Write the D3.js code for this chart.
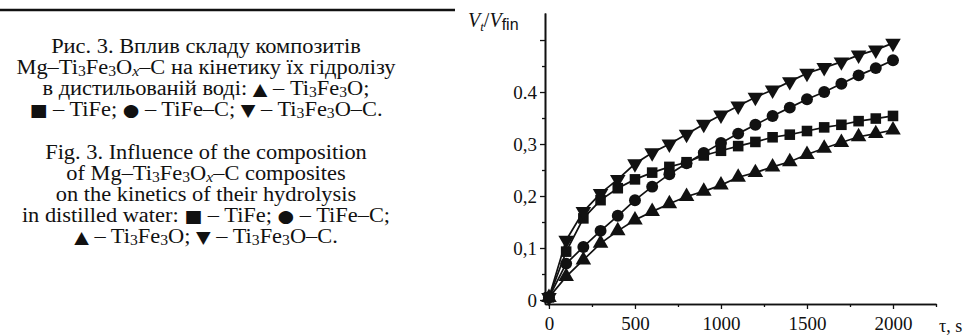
<!DOCTYPE html>
<html>
<head>
<meta charset="utf-8">
<script src="https://cdn.jsdelivr.net/npm/d3@7"></script>
<style>
body { margin: 0; background: #fff; }
#wrap { position: relative; width: 964px; height: 336px; overflow: hidden; }
#chart { position: absolute; left: 0; top: 0; }
.cap { position: absolute; left: 0; width: 412px; text-align: center;
  font-family: "Liberation Serif", "Times New Roman", serif; font-size: 20px;
  line-height: 21px; color: #111; transform: scaleX(1.12); transform-origin: 206px 0; }
.cap sub { font-size: 14px; vertical-align: -2px; line-height: 0; }
.sym { font-family: "DejaVu Sans", sans-serif; font-size: 17px; line-height: 0; }
</style>
</head>
<body>
<div id="wrap">
<div id="chart"></div>
<div class="cap" style="top:36px">Рис. 3. Вплив складу композитів<br>
Mg–Ti<sub>3</sub>Fe<sub>3</sub>O<sub><i>x</i></sub>–C на кінетику їх гідролізу<br>
в дистильованій воді: <span class="sym">▲</span> – Ti<sub>3</sub>Fe<sub>3</sub>O;<br>
<span class="sym">■</span> – TiFe; <span class="sym">●</span> – TiFe–C; <span class="sym">▼</span> – Ti<sub>3</sub>Fe<sub>3</sub>O–C.</div>
<div class="cap" style="top:142px">Fig. 3. Influence of the composition<br>
of Mg–Ti<sub>3</sub>Fe<sub>3</sub>O<sub><i>x</i></sub>–C composites<br>
on the kinetics of their hydrolysis<br>
in distilled water: <span class="sym">■</span> – TiFe; <span class="sym">●</span> – TiFe–C;<br>
<span class="sym">▲</span> – Ti<sub>3</sub>Fe<sub>3</sub>O; <span class="sym">▼</span> – Ti<sub>3</sub>Fe<sub>3</sub>O–C.</div>
</div>
<script>
//Size
var w = 964;
var h = 336;

//Data: time, s
var times = [0, 100, 200, 300, 400, 500, 600, 700, 800, 900, 1000,
  1100, 1200, 1300, 1400, 1500, 1600, 1700, 1800, 1900, 2000];

//Vt/Vfin for each sample
var tiFe = [0.005, 0.093, 0.157, 0.192, 0.215, 0.232, 0.245, 0.256, 0.265, 0.278, 0.287,
  0.296, 0.304, 0.313, 0.318, 0.325, 0.332, 0.337, 0.344, 0.349, 0.354];
var tiFeC = [0.005, 0.070, 0.102, 0.133, 0.162, 0.192, 0.218, 0.242, 0.263, 0.283, 0.302,
  0.320, 0.337, 0.354, 0.370, 0.386, 0.400, 0.416, 0.432, 0.446, 0.461];
var ti3Fe3O = [0.005, 0.045, 0.077, 0.109, 0.133, 0.154, 0.170, 0.185, 0.199, 0.209, 0.221,
  0.236, 0.245, 0.256, 0.266, 0.280, 0.292, 0.303, 0.314, 0.320, 0.327];
var ti3Fe3OC = [0.005, 0.115, 0.170, 0.205, 0.232, 0.262, 0.283, 0.300, 0.319, 0.338, 0.356,
  0.373, 0.390, 0.404, 0.420, 0.436, 0.447, 0.458, 0.471, 0.481, 0.494];

//Ticks
var xTicks = [0, 500, 1000, 1500, 2000];
var xMinor = [250, 750, 1250, 1750, 2250];
var yTicks = [0, 0.1, 0.2, 0.3, 0.4, 0.5];
var yLabels = ["0", "0,1", "0,2", "0,3", "0.4", ""];
var yMinor = [0.05, 0.15, 0.25, 0.35, 0.45];

var series = [
  {name: "TiFe", values: tiFe, symbol: d3.symbolSquare, rot: 0},
  {name: "TiFe-C", values: tiFeC, symbol: d3.symbolCircle, rot: 0},
  {name: "Ti3Fe3O", values: ti3Fe3O, symbol: d3.symbolTriangle, rot: 0},
  {name: "Ti3Fe3O-C", values: ti3Fe3OC, symbol: d3.symbolTriangle, rot: 180}
];

var serif = "Liberation Serif, Times New Roman, serif";

//Scales
var xScale = d3.scaleLinear()
  .domain([-23, 2250])
  .range([545, 936]);

var yScale = d3.scaleLinear()
  .domain([-0.0077, 0.552])
  .range([304, 13]);

var svg = d3.select("#chart")
  .append("svg")
  .attr("width", w)
  .attr("height", h);

//rule at the top of the caption
svg.append("line")
  .attr("x1", 0).attr("x2", 455)
  .attr("y1", 10).attr("y2", 10)
  .attr("stroke", "#111")
  .attr("stroke-width", 2.5);

//Axes
var xAxis = d3.axisBottom(xScale)
  .tickValues(xTicks)
  .tickSize(5)
  .tickPadding(8)
  .tickSizeOuter(0)
  .tickFormat(d3.format("d"));

svg.append("g")
  .attr("class", "axis")
  .attr("transform", "translate(0," + yScale.range()[0] + ")")
  .call(xAxis);

svg.append("g")
  .attr("class", "axis")
  .attr("transform", "translate(0," + yScale.range()[0] + ")")
  .call(d3.axisBottom(xScale).tickValues(xMinor).tickSize(3).tickFormat("").tickSizeOuter(0));

var yAxis = d3.axisLeft(yScale)
  .tickValues(yTicks)
  .tickSize(5)
  .tickPadding(3)
  .tickSizeOuter(0)
  .tickFormat(function(d, i) { return yLabels[i]; });

svg.append("g")
  .attr("class", "axis")
  .attr("transform", "translate(" + xScale.range()[0] + ",0)")
  .call(yAxis);

svg.append("g")
  .attr("class", "axis")
  .attr("transform", "translate(" + xScale.range()[0] + ",0)")
  .call(d3.axisLeft(yScale).tickValues(yMinor).tickSize(3).tickFormat("").tickSizeOuter(0));

svg.selectAll(".axis path").attr("stroke", "#111").attr("stroke-width", 1.6);
svg.selectAll(".axis line").attr("stroke", "#111").attr("stroke-width", 1.3);
svg.selectAll(".axis text")
  .attr("font-family", serif)
  .attr("font-size", 19)
  .attr("fill", "#111");

//x title
svg.append("text")
  .attr("x", 939)
  .attr("y", 332)
  .attr("font-family", serif)
  .attr("font-size", 18)
  .attr("fill", "#111")
  .text("τ, s");

//y title
var yt = svg.append("text")
  .attr("x", 468)
  .attr("y", 27)
  .attr("font-family", serif)
  .attr("font-size", 20)
  .attr("fill", "#111");
yt.append("tspan").attr("font-style", "italic").text("V");
yt.append("tspan").attr("font-style", "italic").attr("font-size", 13).attr("dy", 4).text("t");
yt.append("tspan").attr("dy", -4).text("/");
yt.append("tspan").attr("font-style", "italic").text("V");
yt.append("tspan").attr("font-family", "Liberation Sans, sans-serif").attr("font-size", 16).attr("dy", 3).text("fin");

//Lines
var line = d3.line()
  .x(function(d, i) { return xScale(times[i]); })
  .y(function(d) { return yScale(d); });

svg.append("g")
  .selectAll("path")
  .data(series)
  .enter()
  .append("path")
  .attr("d", function(s) { return line(s.values); })
  .attr("fill", "none")
  .attr("stroke", "#111")
  .attr("stroke-width", 1.7);

//Markers
series.forEach(function(s) {
  var sym = d3.symbol().type(s.symbol).size(s.symbol === d3.symbolTriangle ? 105 : 112);
  svg.append("g")
    .selectAll("path")
    .data(s.values)
    .enter()
    .append("path")
    .attr("d", sym)
    .attr("transform", function(d, i) {
      return "translate(" + xScale(times[i]) + "," + yScale(d) + ") rotate(" + s.rot + ")";
    })
    .attr("fill", "#111");
});
</script>
</body>
</html>
